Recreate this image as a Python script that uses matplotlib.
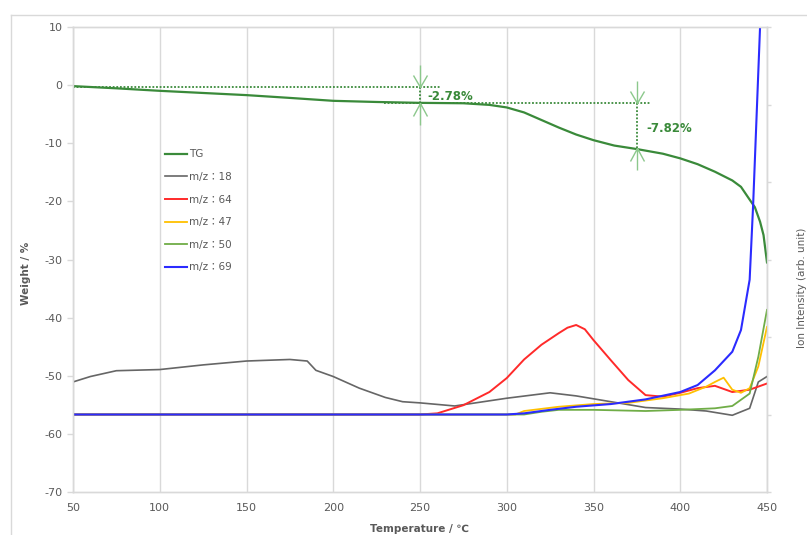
import numpy as np
import matplotlib
matplotlib.use("Agg")
import matplotlib.pyplot as plt
from matplotlib.path import Path
from matplotlib.lines import Line2D

plt.rcParams['font.family'] = ['DejaVu Sans', 'Noto Sans CJK JP']
plt.rcParams['axes.unicode_minus'] = False

# ---------------- data ----------------
tg_t = [50, 75, 100, 125, 150, 175, 200, 225, 250, 275, 290, 300, 310, 320, 330, 340,
        350, 362, 375, 390, 400, 410, 420, 430, 435, 440, 443, 446, 448, 450]
tg_w = [-0.17, -0.55, -0.98, -1.35, -1.72, -2.2, -2.7, -2.9, -3.05, -3.12, -3.4, -3.84,
        -4.7, -6.0, -7.3, -8.5, -9.47, -10.4, -11.0, -11.8, -12.6, -13.6, -14.9, -16.4,
        -17.5, -19.7, -21.0, -23.5, -25.8, -30.5]

m18_t = [50, 60, 75, 100, 125, 150, 175, 185, 190, 200, 215, 230, 240, 250, 270, 300,
         325, 340, 360, 380, 400, 415, 430, 440, 445, 450]
m18_i = [1.42, 1.49, 1.565, 1.58, 1.64, 1.69, 1.71, 1.69, 1.57, 1.49, 1.34, 1.22, 1.165,
         1.15, 1.11, 1.21, 1.28, 1.24, 1.165, 1.09, 1.07, 1.045, 0.99, 1.08, 1.42, 1.49]

m64_t = [50, 250, 260, 275, 290, 300, 310, 320, 330, 335, 340, 345, 350, 360, 370, 380,
         390, 400, 410, 420, 430, 440, 450]
m64_i = [1.0, 1.0, 1.015, 1.12, 1.29, 1.47, 1.71, 1.90, 2.05, 2.12, 2.155, 2.10, 1.96,
         1.70, 1.445, 1.25, 1.23, 1.28, 1.34, 1.37, 1.29, 1.32, 1.40]

m47_t = [50, 305, 310, 330, 350, 370, 390, 405, 415, 420, 425, 430, 435, 440, 445, 450]
m47_i = [1.0, 1.0, 1.045, 1.10, 1.135, 1.15, 1.21, 1.27, 1.36, 1.42, 1.475, 1.32, 1.28,
         1.34, 1.62, 2.13]

m50_t = [50, 310, 320, 330, 350, 380, 400, 420, 430, 440, 445, 450]
m50_i = [1.0, 1.0, 1.035, 1.06, 1.06, 1.045, 1.06, 1.08, 1.11, 1.27, 1.745, 2.35]

m69_t = [50, 300, 310, 325, 340, 360, 380, 400, 410, 420, 430, 435, 440, 442, 446, 450]
m69_i = [1.0, 1.0, 1.015, 1.06, 1.10, 1.135, 1.195, 1.29, 1.38, 1.57, 1.81, 2.09, 2.74,
         3.7, 6.0, 8.0]

labels = ['TG', 'm/z：18', 'm/z：64', 'm/z：47', 'm/z：50', 'm/z：69']

x_ticks = [50, 100, 150, 200, 250, 300, 350, 400, 450]
y_ticks = [10, 0, -10, -20, -30, -40, -50, -60, -70]

# step annotations
tg_ref = -0.3
step1_t, step1 = 250, -2.78
step2_t, step2 = 375, -7.82
level1 = tg_ref + step1
level2 = level1 + step2

# ---------------- figure ----------------
fig = plt.figure(figsize=(8.07, 5.35), dpi=100)
ax = fig.add_axes([73/807, 43/535, 694/807, 465/535])
ax2 = ax.twinx()

grey = '#595959'
spine_c = '#d9d9d9'
c_tg = '#3a8a3a'

ax.set_xlim(50, 450)
ax.set_ylim(-70, 10)
ax2.set_ylim(0, 6)
ax.set_xticks(x_ticks)
ax.set_yticks(y_ticks)
ax2.set_yticks(range(0, 7))
ax2.set_yticklabels([])
ax.grid(axis='x', color='#d9d9d9', lw=1)
ax.set_axisbelow(True)

for a in (ax, ax2):
    for s in a.spines.values():
        s.set_color(spine_c)
        s.set_linewidth(1)
ax.tick_params(axis='y', colors=spine_c, labelcolor=grey, labelsize=8, length=4, width=1)
ax.tick_params(axis='x', colors=spine_c, labelcolor=grey, labelsize=8, length=0, pad=8)
ax2.tick_params(axis='y', colors=spine_c, length=3, width=1)

ax.set_xlabel('Temperature / ℃', fontsize=7.5, color=grey, fontweight='bold')
ax.xaxis.set_label_coords(0.5, -0.068)
ax.set_ylabel('Weight / %', fontsize=7.5, color=grey, fontweight='bold')
ax.yaxis.set_label_coords(-0.06, 0.47)
ax2.set_ylabel('Ion Intensity (arb. unit)', fontsize=7.5, color=grey)
ax2.yaxis.set_label_coords(1.043, 0.44)

# curves
l_tg, = ax.plot(tg_t, tg_w, color=c_tg, lw=1.6, zorder=3)
l18, = ax2.plot(m18_t, m18_i, color='#666666', lw=1.2)
l64, = ax2.plot(m64_t, m64_i, color='#ff2a2a', lw=1.4)
l47, = ax2.plot(m47_t, m47_i, color='#ffc000', lw=1.3)
l50, = ax2.plot(m50_t, m50_i, color='#70ad47', lw=1.3)
l69, = ax2.plot(m69_t, m69_i, color='#2b2bff', lw=1.5)

# annotations on primary axis
dot = dict(color=c_tg, lw=1.3, ls=(0, (1, 1)), zorder=4)
ax.plot([50, 262], [tg_ref, tg_ref], **dot)
ax.plot([229, 383], [level1, level1], **dot)
ax.plot([step1_t, step1_t], [tg_ref, level1], **dot)
ax.plot([step2_t, step2_t], [level1, level2], **dot)

up = Path([(0, 0), (0, 22), (0, 0), (-7, 12), (0, 0), (7, 12)],
          [Path.MOVETO, Path.LINETO, Path.MOVETO, Path.LINETO, Path.MOVETO, Path.LINETO])
down = Path([(0, 0), (0, -22), (0, 0), (-7, -13), (0, 0), (7, -13)],
            [Path.MOVETO, Path.LINETO, Path.MOVETO, Path.LINETO, Path.MOVETO, Path.LINETO])
mk = dict(ls='none', markersize=44*0.72, markeredgecolor='#8cc88c', markeredgewidth=1.0,
          markerfacecolor='none', zorder=4)
ax.plot([step1_t, step2_t], [tg_ref, level1], marker=up, **mk)
ax.plot([step1_t, step2_t], [level1, level2], marker=down, **mk)

ax.text(254, level1 + 1.05, f'{step1:.2f}%', color=c_tg, fontsize=8.5, fontweight='bold',
        va='center', ha='left', zorder=5)
ax.text(380.5, (level1 + level2) / 2 - 0.5, f'{step2:.2f}%', color=c_tg, fontsize=8.5,
        fontweight='bold', va='center', ha='left', zorder=5)

ax.legend([l_tg, l18, l64, l47, l50, l69], labels, loc='upper left',
          bbox_to_anchor=(0.119, 0.757), frameon=False, fontsize=7.5,
          handlelength=2.1, handletextpad=0.2, labelspacing=1.21, labelcolor=grey)

# outer border of chart area
fig.add_artist(Line2D([11/807, 1], [1 - 15/535, 1 - 15/535], color='#d9d9d9', lw=1))
fig.add_artist(Line2D([11/807, 11/807], [0, 1 - 15/535], color='#d9d9d9', lw=1))

fig.savefig('out.png', dpi=100)
